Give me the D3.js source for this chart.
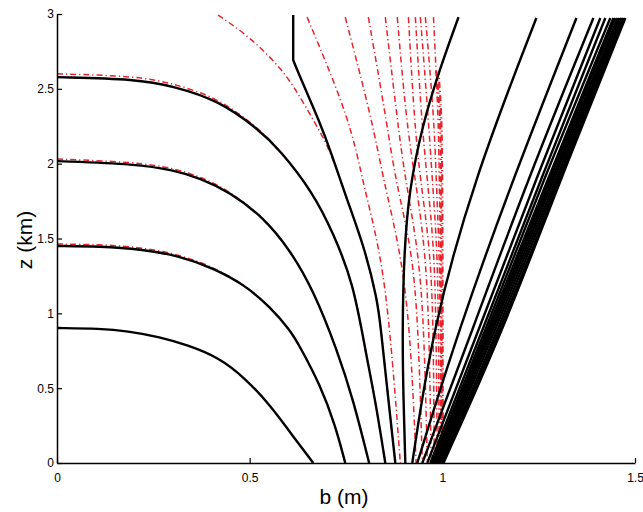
<!DOCTYPE html>
<html>
<head>
<meta charset="utf-8">
<script src="https://cdn.jsdelivr.net/npm/d3@7"></script>
<style>
  body { margin: 0; background: #fff; }
  svg { display: block; }
  text { font-family: "Liberation Sans", Arial, Helvetica, sans-serif; fill: #000; }
</style>
</head>
<body>
<svg id="chart" width="643" height="512"></svg>
<script>
// ---- axis ticks ----
const xTicks = [0, 0.5, 1, 1.5];
const yTicks = [0, 0.5, 1, 1.5, 2, 2.5, 3];

// ---- black solid contours, [b (m), z (km)] ----
const blackA = [[0, 0.902], [0.112, 0.898], [0.182, 0.882], [0.268, 0.842], [0.338, 0.788], [0.418, 0.708], [0.488, 0.568], [0.553, 0.387], [0.610, 0.187], [0.665, 0]];
const blackB = [[0, 1.450], [0.112, 1.447], [0.216, 1.430], [0.319, 1.383], [0.405, 1.303], [0.488, 1.189], [0.553, 1.042], [0.605, 0.888], [0.631, 0.775], [0.683, 0.521], [0.722, 0.254], [0.748, 0]];
const blackC = [[0, 2.017], [0.208, 1.997], [0.301, 1.957], [0.371, 1.904], [0.449, 1.810], [0.535, 1.643], [0.605, 1.423], [0.665, 1.156], [0.727, 0.755], [0.769, 0.421], [0.810, 0]];
const blackD = [[0, 2.578], [0.208, 2.565], [0.301, 2.518], [0.418, 2.425], [0.519, 2.238], [0.579, 2.091], [0.665, 1.804], [0.717, 1.536], [0.769, 1.202], [0.800, 0.755], [0.826, 0.421], [0.852, 0]];
// the corner where the vertical top segment bends is listed three times to keep it sharp
const blackE = [[0.613, 2.993], [0.613, 2.692], [0.613, 2.692], [0.613, 2.692], [0.631, 2.578], [0.683, 2.271], [0.709, 2.091], [0.753, 1.757], [0.800, 1.423], [0.831, 1.089], [0.839, 0.935], [0.860, 0.421], [0.878, 0]];
const blackF = [[1.042, 2.979], [0.995, 2.645], [0.948, 2.258], [0.914, 1.824], [0.901, 1.423], [0.896, 0.888], [0.899, 0.421], [0.904, 0]];

// ---- right-hand fan of black lines: b at each shared z level ----
const fanZ = [0, 0.888, 1.891, 2.973];
const fanLines = [
  [0.922, 0.974, 1.081, 1.244],
  [0.935, 1.042, 1.182, 1.348],
  [0.948, 1.078, 1.221, 1.392],
  [0.961, 1.094, 1.242, 1.410],
  [0.969, 1.104, 1.255, 1.423],
  [0.974, 1.112, 1.262, 1.436],
  [0.977, 1.117, 1.273, 1.444],
  [0.981, 1.122, 1.278, 1.449],
  [0.984, 1.127, 1.283, 1.455],
  [0.988, 1.132, 1.288, 1.460],
  [0.992, 1.138, 1.294, 1.464],
  [0.996, 1.145, 1.299, 1.468],
  [1.000, 1.151, 1.304, 1.471],
  [1.003, 1.158, 1.306, 1.475]
];

// ---- red dash-dot comparison curves, [b, z] ----
const redB = [[0, 1.463], [0.112, 1.460], [0.216, 1.442], [0.319, 1.392], [0.405, 1.310], [0.488, 1.189], [0.553, 1.042], [0.605, 0.888], [0.631, 0.775], [0.683, 0.521], [0.722, 0.254], [0.748, 0]];
const redC = [[0, 2.031], [0.208, 2.010], [0.301, 1.970], [0.371, 1.915], [0.449, 1.815], [0.535, 1.643], [0.605, 1.423], [0.665, 1.156], [0.727, 0.755], [0.769, 0.421], [0.810, 0]];
const redD = [[0, 2.600], [0.208, 2.585], [0.301, 2.535], [0.418, 2.440], [0.519, 2.245], [0.579, 2.091], [0.665, 1.804], [0.717, 1.536], [0.769, 1.202], [0.800, 0.755], [0.826, 0.421], [0.852, 0]];
const redE = [[0.418, 2.993], [0.501, 2.846], [0.587, 2.625], [0.631, 2.445], [0.670, 2.271], [0.709, 2.091], [0.753, 1.757], [0.800, 1.423], [0.831, 1.089], [0.839, 0.935], [0.860, 0.421], [0.878, 0]];

// red fan: b at each shared z level (top to bottom)
const redFanZ = [2.979, 2.291, 1.890, 1.423, 0.888, 0];
const redFan = [
  [0.649, 0.761, 0.792, 0.839, 0.865, 0.891],
  [0.748, 0.818, 0.847, 0.891, 0.917, 0.932],
  [0.808, 0.855, 0.878, 0.922, 0.938, 0.948],
  [0.852, 0.883, 0.904, 0.938, 0.953, 0.961],
  [0.883, 0.906, 0.930, 0.956, 0.966, 0.971],
  [0.912, 0.927, 0.943, 0.969, 0.977, 0.979],
  [0.930, 0.946, 0.961, 0.979, 0.984, 0.987],
  [0.943, 0.964, 0.974, 0.987, 0.990, 0.992],
  [0.956, 0.979, 0.984, 0.992, 0.995, 0.995],
  [0.977, 0.990, 0.992, 0.995, 0.997, 0.997]
];

// red curves packed against b = 1 below z ≈ 2.6
const redEdge1 = [[0.984, 2.620], [0.994, 2.400], [0.997, 1.900], [0.998, 0.900], [0.998, 0]];
const redEdge2 = [[0.990, 2.600], [0.998, 2.350], [1.000, 1.900], [1.001, 0.900], [1.001, 0]];

// ---- layout ----
const svg = d3.select("#chart");
const x = d3.scaleLinear().domain([0, 1.5]).range([57, 635]);
const y = d3.scaleLinear().domain([0, 3]).range([463, 14]);

const line = d3.line()
  .x(d => x(d[0]))
  .y(d => y(d[1]))
  .curve(d3.curveBasis);

const plot = svg.append("g");

// red dash-dot curves underneath
const redCurves = [redB, redC, redD, redE].concat(
  redFan.map(bs => bs.map((b, i) => [b, redFanZ[i]])),
  [redEdge1, redEdge2]
);
plot.selectAll("path.red")
  .data(redCurves)
  .join("path")
  .attr("class", "red")
  .attr("d", line)
  .attr("fill", "none")
  .attr("stroke", "#e8232b")
  .attr("stroke-width", (d, i) => i >= redCurves.length - 2 ? 2.2 : 1.5)
  .attr("stroke-dasharray", (d, i) => i === redCurves.length - 1 ? "6,3,1.2,3" : "6,3,1.2,3")
  .attr("stroke-dashoffset", (d, i) => i === redCurves.length - 1 ? 5 : 0);

// black solid curves on top
const blackCurves = [blackA, blackB, blackC, blackD, blackE, blackF].concat(
  fanLines.map(bs => bs.map((b, i) => [b, fanZ[i]]))
);
plot.selectAll("path.black")
  .data(blackCurves)
  .join("path")
  .attr("class", "black")
  .attr("d", line)
  .attr("fill", "none")
  .attr("stroke", "#000")
  .attr("stroke-width", 2.4)
  .attr("stroke-linejoin", "round");

// axes with inward ticks
const fmt = d => String(d);
const xAxis = d3.axisBottom(x).tickValues(xTicks).tickFormat(fmt)
  .tickSizeInner(-5).tickSizeOuter(0).tickPadding(10);
const yAxis = d3.axisLeft(y).tickValues(yTicks).tickFormat(fmt)
  .tickSizeInner(-5).tickSizeOuter(0).tickPadding(3);

const gx = svg.append("g").attr("transform", "translate(0,463)").call(xAxis);
const gy = svg.append("g").attr("transform", "translate(57,0)").call(yAxis);
[gx, gy].forEach(g => {
  g.select(".domain").attr("stroke", "#000").attr("stroke-width", 1.5);
  g.selectAll(".tick line").attr("stroke", "#000").attr("stroke-width", 1.2);
  g.selectAll(".tick text").attr("font-size", 12)
    .style("font-family", "'Liberation Sans', Arial, sans-serif");
});

// axis titles
svg.append("text")
  .attr("x", 344).attr("y", 504)
  .attr("text-anchor", "middle")
  .attr("font-size", 21)
  .text("b (m)");
svg.append("text")
  .attr("transform", "translate(32,240) rotate(-90)")
  .attr("text-anchor", "middle")
  .attr("font-size", 21)
  .text("z (km)");
</script>
</body>
</html>
